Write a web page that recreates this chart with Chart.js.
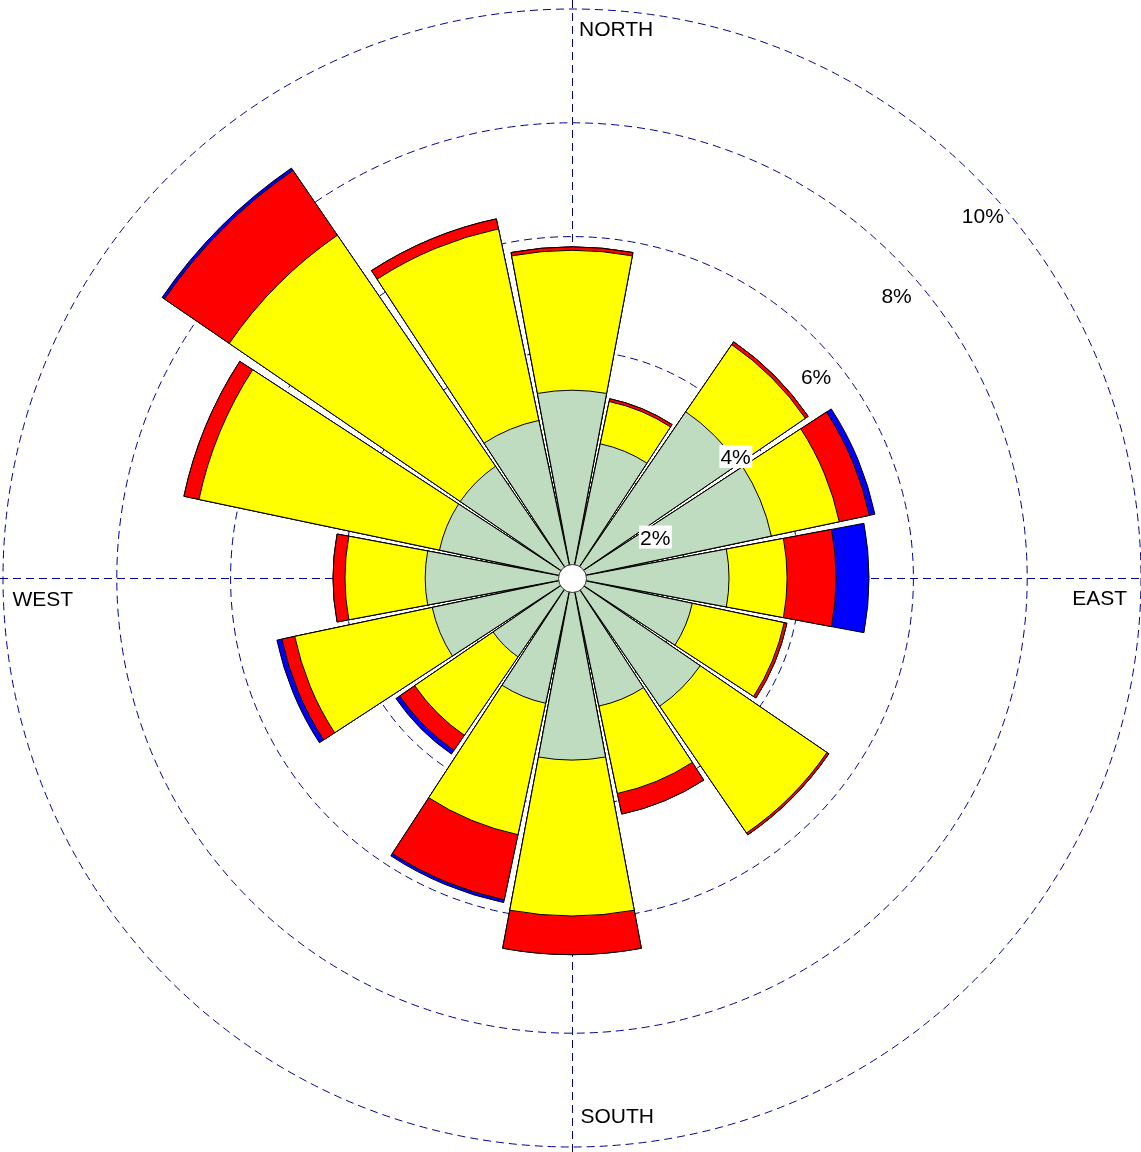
<!DOCTYPE html>
<html>
<head>
<meta charset="utf-8">
<title>Wind rose</title>
<script src="https://cdn.jsdelivr.net/npm/chart.js@4.4.0/dist/chart.umd.min.js"></script>
<style>
  html, body { margin: 0; padding: 0; background: #fff; }
  canvas { display: block; }
</style>
</head>
<body>
<canvas id="wind_rose" width="1141" height="1152"></canvas>
<script>
// 16 directions, clockwise from north
var directions = ["N", "NNE", "NE", "ENE", "E", "ESE", "SE", "SSE",
                  "S", "SSW", "SW", "WSW", "W", "WNW", "NW", "NNW"];

// frequency (%) of each speed class per direction
var speedClass1 = [3.30, 2.41, 3.54, 3.58, 2.76, 2.16, 2.73, 2.30, 3.20, 2.25, 1.68, 2.51, 2.58, 2.38, 2.38, 2.83];
var speedClass2 = [2.46, 0.76, 1.43, 1.22, 1.02, 1.65, 2.70, 1.57, 2.74, 2.36, 1.67, 2.47, 1.41, 4.32, 4.92, 3.44];
var speedClass3 = [0.06, 0.05, 0.06, 0.54, 0.86, 0.05, 0.04, 0.37, 0.68, 1.17, 0.32, 0.23, 0.21, 0.27, 1.38, 0.18];
var speedClass4 = [0.00, 0.00, 0.00, 0.10, 0.58, 0.00, 0.00, 0.00, 0.00, 0.05, 0.08, 0.09, 0.00, 0.00, 0.05, 0.00];

var classColors = ["#c0dcc0", "#ffff00", "#ff0000", "#0000ff"];

// ring labels and compass labels
var radialTicks = [2, 4, 6, 8, 10];
var compassLabels = ["NORTH", "EAST", "SOUTH", "WEST"];

var labelFont = '21px "Liberation Sans", Arial, sans-serif';
var gridColor = "#00008b";

// polar area has no stacking, so draw cumulative petals, biggest at the back
function addUp(a, b) {
    return a.map(function(v, i) { return +(v + b[i]).toFixed(3); });
}
var cum1 = speedClass1;
var cum2 = addUp(cum1, speedClass2);
var cum3 = addUp(cum2, speedClass3);
var cum4 = addUp(cum3, speedClass4);

var roseData = {
    labels: directions,
    datasets: [cum1, cum2, cum3, cum4].map(function(d, i) {
        return {
            label: "class " + (i + 1),
            data: d,
            backgroundColor: classColors[i],
            borderColor: "#000",
            borderWidth: 1,
            borderJoinStyle: "miter"
        };
    })
};

var roseDecor = {
    id: "roseDecor",
    afterDatasetsUpdate: function(chart) {
        // leave a small angular gap between neighbouring petals
        chart.data.datasets.forEach(function(ds, i) {
            chart.getDatasetMeta(i).data.forEach(function(arc) {
                var mid = (arc.startAngle + arc.endAngle) / 2;
                var half = (arc.endAngle - arc.startAngle) / 2 * 0.943;
                arc.startAngle = mid - half;
                arc.endAngle = mid + half;
            });
        });
    },
    beforeDatasetsDraw: function(chart) {
        var ctx = chart.ctx;
        var r = chart.scales.r;
        var cx = r.xCenter, cy = r.yCenter, R = r.drawingArea;

        // the four compass axes
        ctx.save();
        ctx.strokeStyle = gridColor;
        ctx.lineWidth = 1;
        ctx.setLineDash([8, 5]);
        ctx.beginPath();
        ctx.moveTo(cx + 0.5, 0);
        ctx.lineTo(cx + 0.5, chart.height);
        ctx.moveTo(0, cy + 0.5);
        ctx.lineTo(chart.width, cy + 0.5);
        ctx.stroke();
        ctx.restore();

        // compass labels
        ctx.save();
        ctx.font = labelFont;
        ctx.fillStyle = "#000";
        ctx.textBaseline = "alphabetic";
        ctx.textAlign = "left";
        ctx.fillText(compassLabels[0], cx + 7, cy - R + 27);
        ctx.textAlign = "right";
        ctx.fillText(compassLabels[1], cx + R - 14, cy + 27);
        ctx.textAlign = "left";
        ctx.fillText(compassLabels[2], cx + 8.5, cy + R - 24);
        ctx.fillText(compassLabels[3], cx - R + 9.5, cy + 28);
        ctx.restore();
    },
    afterDatasetsDraw: function(chart) {
        var ctx = chart.ctx;
        var r = chart.scales.r;
        var cx = r.xCenter, cy = r.yCenter;

        // calm hole in the middle
        ctx.save();
        ctx.beginPath();
        ctx.arc(cx + 0.5, cy + 0.5, 14, 0, Math.PI * 2);
        ctx.fillStyle = "#fff";
        ctx.fill();
        ctx.strokeStyle = "#333";
        ctx.lineWidth = 1;
        ctx.stroke();
        ctx.restore();

        // ring labels along the north-east diagonal
        ctx.save();
        ctx.font = labelFont;
        ctx.textAlign = "left";
        ctx.textBaseline = "alphabetic";
        radialTicks.forEach(function(t) {
            var d = r.getDistanceFromCenterForValue(t) * Math.SQRT1_2;
            var txt = t + "%";
            var x = cx + d - 12.5;
            var y = cy - d + 47;
            var w = ctx.measureText(txt).width;
            ctx.fillStyle = "#fff";
            ctx.fillRect(x - 1, y - 19, w + 2.5, 23);
            ctx.fillStyle = "#000";
            ctx.fillText(txt, x, y);
        });
        ctx.restore();
    }
};

var roseOptions = {
    responsive: false,
    animation: false,
    layout: { padding: { left: 3, right: 0, top: 9, bottom: 5 } },
    plugins: {
        legend: { display: false },
        tooltip: { enabled: false }
    },
    scales: {
        r: {
            min: 0,
            max: 10,
            startAngle: -11.25,
            ticks: { display: false, stepSize: 2 },
            grid: { circular: true, color: gridColor, lineWidth: 1 },
            border: { dash: [8, 5] },
            angleLines: { display: false },
            pointLabels: { display: false }
        }
    }
};

var ctx = document.getElementById("wind_rose").getContext("2d");
new Chart(ctx, { type: "polarArea", data: roseData, options: roseOptions, plugins: [roseDecor] });
</script>
</body>
</html>
